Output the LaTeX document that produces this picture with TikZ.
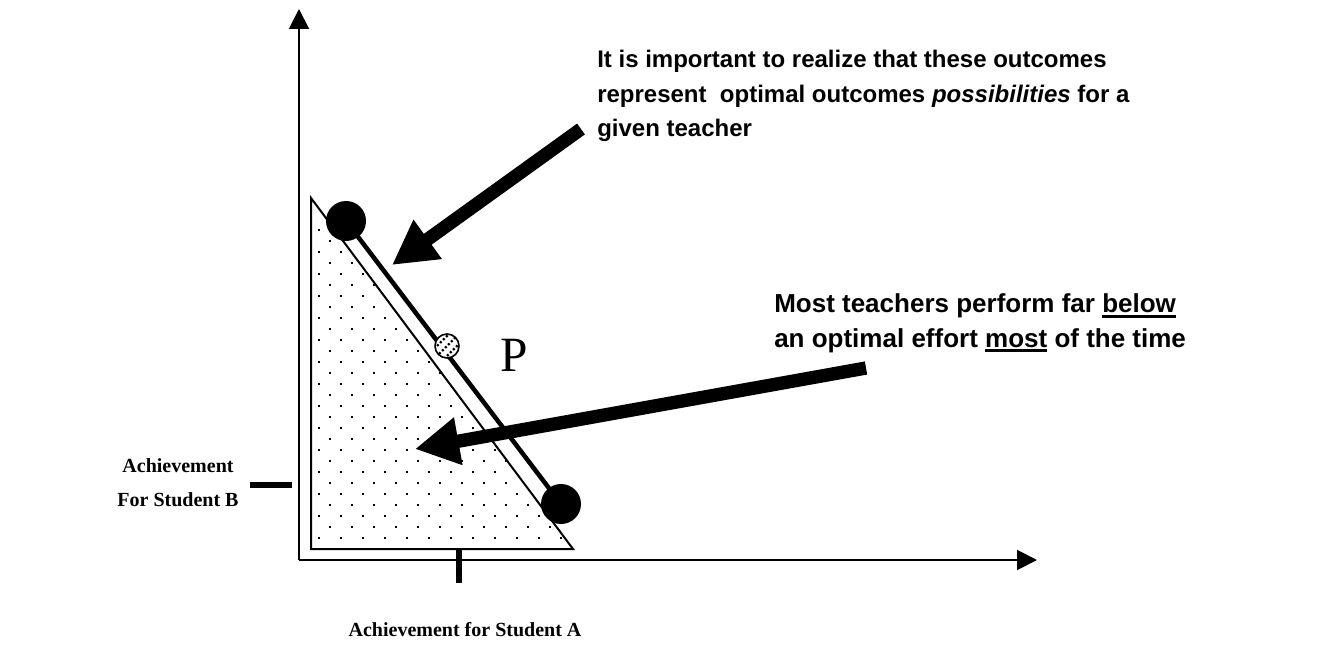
\documentclass[tikz,border=0pt]{standalone}
\usepackage{fontspec}
\setmainfont{Liberation Serif}
\newfontfamily\arialfont{Liberation Sans}
\usetikzlibrary{arrows.meta,calc}

% underline used in the annotation text
\newsavebox\undlbox
\newcommand{\undl}[1]{\sbox\undlbox{#1}\rlap{\rule[-3.4pt]{\wd\undlbox}{1.7pt}}\usebox\undlbox}

\tikzset{
  axis/.style={line width=1.5pt,-{Triangle[length=15pt,width=15pt]}},
  tickmark/.style={line width=5.2pt},
  edge/.style={line width=1.5pt,line join=miter},
  frontier/.style={line width=3.4pt},
  bigdot/.style={circle,fill=black,inner sep=0pt,minimum size=30pt},
  bigarrow/.style={line width=10pt,-{Triangle[length=33pt,width=34pt]}},
  note/.style={font=\arialfont\bfseries\fontsize{18}{22}\selectfont,inner sep=0pt,anchor=base west},
  bignote/.style={note,font=\arialfont\bfseries\fontsize{19.5}{23}\selectfont},
  axlabel/.style={font=\bfseries\fontsize{15}{18}\selectfont,inner sep=0pt,anchor=base},
}

\begin{document}
\begin{tikzpicture}[x=0.75pt,y=-0.75pt]
\useasboundingbox (0,0) rectangle (1328,645);

% axes
\coordinate (origin) at (299,560);
\coordinate (ytop) at (299,9);
\coordinate (xend) at (1037,560);
\draw[axis] (origin) -- (ytop);
\draw[axis] (origin) -- (xend);

% tick marks
\coordinate (ytickL) at (250,485);
\coordinate (ytickR) at (292,485);
\coordinate (xtickT) at (459,549);
\coordinate (xtickB) at (459,583);
\draw[tickmark] (ytickL) -- (ytickR);
\draw[tickmark] (xtickT) -- (xtickB);

% shaded feasible region
\coordinate (tA) at (311,198);
\coordinate (tB) at (311,549);
\coordinate (tC) at (573,549);
\begin{scope}
  \clip (tA) -- (tB) -- (tC) -- cycle;
  \foreach \k in {0,...,32}{
    \pgfmathtruncatemacro\off{mod(\k,2)==0 ? 330 : 319}
    \foreach \j in {0,...,12}{
      \fill ({\off+22*\j-1},{549-11*\k-1}) rectangle ++(2,2);
    }
  }
\end{scope}
\draw[edge] (tA) -- (tB) -- (tC) -- cycle;

% frontier of optimal outcomes
\node[bigdot] (c1) at (346,221) {};
\node[bigdot] (c2) at (561,504) {};
\draw[frontier] (c1.center) -- (c2.center);

% point P on the frontier
\coordinate (pdot) at (447,346);
\fill[white] (pdot) circle (12);
\begin{scope}
  \clip (pdot) circle (12);
  \foreach \d in {-10,-5,0,5,10}{
    \draw[line width=1.6pt,dash pattern=on 1.6pt off 1.6pt]
      ($(pdot)+(\d,\d)+(-14,14)$) -- ($(pdot)+(\d,\d)+(14,-14)$);
  }
\end{scope}
\draw[line width=1.2pt] (pdot) circle (12);
\node[font=\fontsize{37}{40}\selectfont,inner sep=0pt,anchor=base west] (plabel) at (500,371) {P};

% annotation arrows
\coordinate (a1s) at (581,129);
\coordinate (a1t) at (392,265);
\draw[bigarrow] (a1s) -- (a1t);
\coordinate (a2s) at (866,368);
\coordinate (a2t) at (415,449);
\draw[bigarrow] (a2s) -- (a2t);

% annotation texts
\node[note] (n1a) at (597,68) {It is important to realize that these outcomes};
\node[note] (n1b) at (597,103) {represent\ \ optimal outcomes \textit{possibilities} for a};
\node[note] (n1c) at (597,137) {given teacher};
\node[bignote] (n2a) at (774,313) {Most teachers perform far \undl{below}};
\node[bignote] (n2b) at (774,347) {an optimal effort \undl{most} of the time};

% axis labels
\node[axlabel] (yl1) at (178,472) {Achievement};
\node[axlabel] (yl2) at (178,506) {For Student B};
\node[axlabel] (xl) at (465,636) {Achievement for Student A};
\end{tikzpicture}
\end{document}
